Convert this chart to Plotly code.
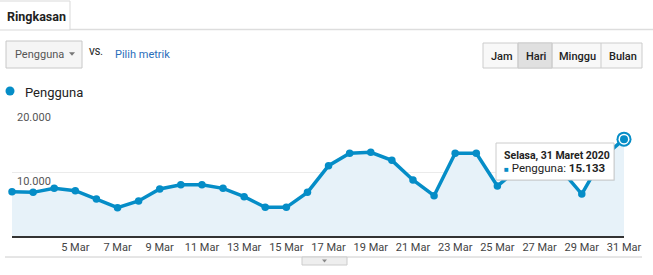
import plotly.graph_objects as go

# ---------------- data ----------------
dates = [
    "2020-03-02", "2020-03-03", "2020-03-04", "2020-03-05", "2020-03-06",
    "2020-03-07", "2020-03-08", "2020-03-09", "2020-03-10", "2020-03-11",
    "2020-03-12", "2020-03-13", "2020-03-14", "2020-03-15", "2020-03-16",
    "2020-03-17", "2020-03-18", "2020-03-19", "2020-03-20", "2020-03-21",
    "2020-03-22", "2020-03-23", "2020-03-24", "2020-03-25", "2020-03-26",
    "2020-03-27", "2020-03-28", "2020-03-29", "2020-03-30", "2020-03-31",
]
pengguna = [
    6930, 6820, 7450, 7080, 5780,
    4430, 5470, 7340, 8020, 8020,
    7450, 6150, 4480, 4480, 6820,
    10990, 12920, 13070, 11820, 8750,
    6300, 12920, 12920, 7810, 10600,
    11000, 10400, 6560, 12300, 15133,
]
xtick_vals = [
    "2020-03-05", "2020-03-07", "2020-03-09", "2020-03-11", "2020-03-13",
    "2020-03-15", "2020-03-17", "2020-03-19", "2020-03-21", "2020-03-23",
    "2020-03-25", "2020-03-27", "2020-03-29", "2020-03-31",
]
xtick_text = [
    "5 Mar", "7 Mar", "9 Mar", "11 Mar", "13 Mar", "15 Mar", "17 Mar",
    "19 Mar", "21 Mar", "23 Mar", "25 Mar", "27 Mar", "29 Mar", "31 Mar",
]
ytick_vals = [10000, 20000]
series_name = "Pengguna"
tooltip_title = "Selasa, 31 Maret 2020"
buttons = ["Jam", "Hari", "Minggu", "Bulan"]

# ---------------- layout helpers ----------------
W, H = 653, 275
L, R, T, B = 12, 29, 108, 39
PW, PH = W - L - R, H - T - B
BLUE = "#058dc7"
FONT = "Roboto"


def PX(x):
    return (x - L) / PW


def PY(y):
    return (H - B - y) / PH


def fmt(v):
    return f"{v:,}".replace(",", ".")


fig = go.Figure()

fig.add_trace(go.Scatter(
    x=dates, y=pengguna, mode="lines+markers",
    line=dict(color=BLUE, width=3.5),
    marker=dict(size=7.5, color=BLUE),
    fill="tozeroy", fillcolor="#e7f2f9",
    cliponaxis=False, hoverinfo="skip", showlegend=False,
))
# highlighted (hovered) last point
for size, col in [(15, BLUE), (11, "white"), (8, BLUE)]:
    fig.add_trace(go.Scatter(
        x=[dates[-1]], y=[pengguna[-1]], mode="markers",
        marker=dict(size=size, color=col),
        cliponaxis=False, hoverinfo="skip", showlegend=False,
    ))

shapes = []
ann = []


def rect(x0, y0, x1, y1, fill, line="#cccccc", lw=1):
    shapes.append(dict(type="rect", xref="paper", yref="paper",
                       x0=PX(x0), x1=PX(x1), y0=PY(y1), y1=PY(y0),
                       fillcolor=fill, line=dict(color=line, width=lw), layer="above"))


def hline(x0, x1, y, color, lw=1):
    shapes.append(dict(type="line", xref="paper", yref="paper",
                       x0=PX(x0), x1=PX(x1), y0=PY(y), y1=PY(y),
                       line=dict(color=color, width=lw), layer="above"))


def vline(x, y0, y1, color, lw=1):
    shapes.append(dict(type="line", xref="paper", yref="paper",
                       x0=PX(x), x1=PX(x), y0=PY(y0), y1=PY(y1),
                       line=dict(color=color, width=lw), layer="above"))


def tri(cx, cy, w, h, color):
    p = (f"M {PX(cx - w / 2)} {PY(cy - h / 2)} L {PX(cx + w / 2)} {PY(cy - h / 2)} "
         f"L {PX(cx)} {PY(cy + h / 2)} Z")
    shapes.append(dict(type="path", xref="paper", yref="paper", path=p,
                       fillcolor=color, line=dict(width=0), layer="above"))


def text(x, y, s, size=11, color="#333333", xanchor="left", weight=None):
    f = dict(family=FONT, size=size, color=color)
    if weight:
        f["weight"] = weight
    ann.append(dict(xref="paper", yref="paper", x=PX(x), y=PY(y), text=s,
                    showarrow=False, xanchor=xanchor, yanchor="middle", font=f))


# tab "Ringkasan"
hline(70, 653, 29.5, "#dddddd", 1.5)
rect(-1, 1, 70, 30, "white", "#d9d9d9", 1)
text(5, 16, "<b>Ringkasan</b>", 12.5, "#222222")

# dropdown
rect(6, 41, 82, 68, "#f5f5f5", "#c8c8c8")
text(13, 54, series_name, 11, "#555555")
tri(72, 54, 6, 3.5, "#777777")
text(87, 52, "VS.", 9, "#333333", weight=500)
text(113, 54, "Pilih metrik", 11, "#2a6ebb")

# buttons
edges = [483, 518, 552, 601, 642]
rect(483, 43, 642, 68, "#f8f8f8", "#cccccc")
rect(518, 43, 552, 68, "#e0e0e0", "#cccccc")
for e in edges[1:-1]:
    vline(e, 43, 68, "#cccccc")
for i, b in enumerate(buttons):
    text((edges[i] + edges[i + 1]) / 2 + 1, 56, b, 11, "#222222", "center", weight=500)

# legend
shapes.append(dict(type="circle", xref="paper", yref="paper",
                   x0=PX(5.5), x1=PX(14.5), y0=PY(95.5), y1=PY(86.5),
                   fillcolor=BLUE, line=dict(width=0), layer="above"))
text(23, 92, series_name, 13, "#222222")

# y labels (inside plot, below gridline)
for v in ytick_vals:
    ann.append(dict(xref="paper", yref="y", x=PX(15), y=v, text=fmt(v),
                    showarrow=False, xanchor="left", yanchor="top", yshift=-1,
                    font=dict(family=FONT, size=11, color="#555555")))

# bottom rule and small tab
hline(5, 642, 257, "#cccccc", 1)
rect(302, 257, 347, 265, "#eeeeee", "#cccccc")
tri(324.5, 261, 5, 3, "#888888")

# tooltip
rect(497, 144, 615, 181, "rgba(0,0,0,0.08)", "rgba(0,0,0,0)", 0)
rect(496, 143, 614, 180, "white", "#cccccc")
text(502, 155, f"<b>{tooltip_title}</b>", 10.5, "#222222")
text(502, 168,
     f"<span style='color:{BLUE};font-size:8px'>■</span> {series_name}: <b>{fmt(pengguna[-1])}</b>",
     11.5, "#222222")

fig.update_layout(
    width=W, height=H,
    margin=dict(l=L, r=R, t=T, b=B, pad=0),
    paper_bgcolor="white", plot_bgcolor="white",
    showlegend=False, hovermode=False,
    font=dict(family=FONT),
    xaxis=dict(type="date", range=[dates[0], dates[-1]],
               tickvals=xtick_vals, ticktext=xtick_text,
               tickfont=dict(family=FONT, size=11, color="#444444"),
               ticks="", showgrid=False, zeroline=False,
               showline=True, linecolor="#333333", linewidth=1.5),
    yaxis=dict(range=[0, 20000], tickvals=ytick_vals, showticklabels=False,
               showgrid=True, gridcolor="#ebebeb", gridwidth=1,
               zeroline=False, ticks=""),
    shapes=shapes, annotations=ann,
)

fig.write_html("out.html")
